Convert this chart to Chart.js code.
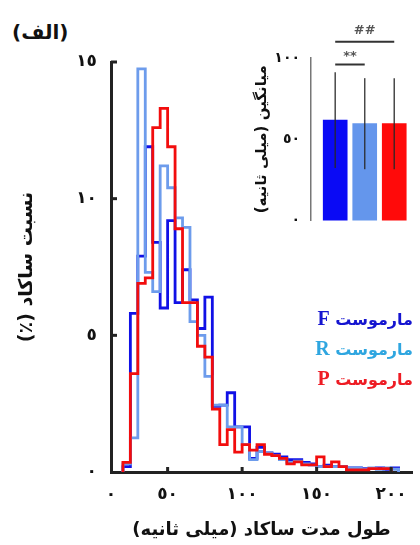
<!DOCTYPE html>
<html lang="fa">
<head>
<meta charset="UTF-8">
<title>طول مدت ساکاد</title>
<script src="https://cdn.jsdelivr.net/npm/chart.js"></script>
<style>
  html, body { margin: 0; padding: 0; background: #fff; }
  body { width: 420px; height: 545px; position: relative; overflow: hidden; font-family: 'DejaVu Sans', sans-serif; }
  #mainChart { position: absolute; left: 0; top: 0; }
  #insetChart { position: absolute; left: 250px; top: 0; }
  .panel-tag { position: absolute; left: 12px; top: 20px; font-weight: bold; font-size: 20px; color: #111; }
  .legend { position: absolute; right: 7px; top: 304px; direction: rtl; text-align: right; font-weight: bold; font-size: 16px; line-height: 29px; }
  .legend .tag { font-family: 'Liberation Serif', serif; font-size: 20px; }
</style>
</head>
<body>
<div class="panel-tag" dir="rtl">(الف)</div>
<canvas id="mainChart" width="420" height="545" dir="rtl"></canvas>
<canvas id="insetChart" width="170" height="240" dir="rtl"></canvas>
<div class="legend">
  <div style="color:#1515d0">مارموست <span class="tag">F</span></div>
  <div style="color:#2fa6e0">مارموست <span class="tag">R</span></div>
  <div style="color:#ee1c24">مارموست <span class="tag">P</span></div>
</div>
<script>
// histogram bins (ms, bin start), 5 ms wide
const binStart = [20,25,30,35,40,45,50,55,60,65,70,75,80,85,90,95,100,105,110,115,120,125,130,135,140,145,150,155,160,165,170,175,180,185,190,195,200];
const binWidth = 5;
const seriesNames = ['مارموست F', 'مارموست R', 'مارموست P'];
// percent of saccades per bin
const fValues = [0.2,5.8,7.9,11.9,8.4,6.0,9.2,6.2,7.4,6.3,5.25,6.4,2.4,2.45,2.9,1.65,1.65,0.5,0.9,0.7,0.65,0.55,0.45,0.45,0.35,0.3,0.2,0.25,0.2,0.2,0.15,0.15,0.12,0.12,0.15,0.1,0.15];
const rValues = [0.3,1.25,14.75,7.3,6.6,11.2,10.4,9.3,8.95,5.5,5.0,3.5,2.45,2.45,1.65,1.65,1.0,0.45,0.75,0.7,0.6,0.45,0.35,0.4,0.3,0.25,0.2,0.2,0.2,0.2,0.15,0.15,0.1,0.15,0.1,0.15,0.1];
const pValues = [0.35,3.6,6.9,7.1,12.6,13.3,11.9,8.9,6.2,6.2,4.6,4.2,2.3,1.0,1.55,0.73,1.0,0.8,1.0,0.65,0.6,0.5,0.3,0.37,0.26,0.26,0.55,0.2,0.37,0.2,0.08,0.08,0.08,0.12,0.12,0.12];

const xTickValues = [0, 50, 100, 150, 200];
const xTickLabels = ['٠', '٥٠', '١٠٠', '١٥٠', '٢٠٠'];
const yTickValues = [0, 5, 10, 15];
const yTickLabels = ['٠', '٥', '١٠', '١٥'];

// inset: mean saccade duration
const groupNames = ['F', 'R', 'P'];
const groupPos = [1, 2, 3];
const meanValues = [61.8, 59.6, 59.6];
const errValues = [29.5, 28, 28];
const insetTickValues = [0, 50, 100];
const insetTickLabels = ['٠', '٥٠', '١٠٠'];

// step outline points: rises at the first edge, falls at the last
function toSteps(vals) {
  const pts = [{ x: binStart[0], y: 0 }];
  vals.forEach((v, i) => pts.push({ x: binStart[i], y: v }));
  pts.push({ x: binStart[vals.length - 1] + binWidth, y: 0 });
  return pts;
}

const boldFont = (size) => ({ family: 'DejaVu Sans', size: size, weight: 'bold' });

const innerTicks = {
  id: 'innerTicks',
  afterDraw(chart) {
    const { ctx, chartArea, scales: { x, y } } = chart;
    ctx.save();
    ctx.strokeStyle = '#222';
    ctx.lineWidth = 3;
    yTickValues.forEach(v => {
      if (v === 0) return;
      const py = y.getPixelForValue(v);
      ctx.beginPath(); ctx.moveTo(chartArea.left, py); ctx.lineTo(chartArea.left + 6, py); ctx.stroke();
    });
    xTickValues.forEach(v => {
      if (v <= x.min) return;
      const px = x.getPixelForValue(v);
      ctx.beginPath(); ctx.moveTo(px, chartArea.bottom); ctx.lineTo(px, chartArea.bottom - 5); ctx.stroke();
    });
    ctx.restore();
  }
};

new Chart(document.getElementById('mainChart'), {
  type: 'line',
  data: {
    datasets: [
      { label: seriesNames[2], data: toSteps(pValues), borderColor: '#f20d0d', order: 0 },
      { label: seriesNames[1], data: toSteps(rValues), borderColor: '#6d9cec', order: 1 },
      { label: seriesNames[0], data: toSteps(fValues), borderColor: '#1010e6', order: 2 }
    ]
  },
  options: {
    responsive: false,
    animation: false,
    layout: { padding: { top: 62, right: 8, left: 0, bottom: 0 } },
    elements: {
      line: { borderWidth: 2.8, stepped: true, fill: false, tension: 0 },
      point: { radius: 0, hoverRadius: 0 }
    },
    plugins: { legend: { display: false }, tooltip: { enabled: false } },
    scales: {
      x: {
        type: 'linear', min: 12, max: 214,
        afterBuildTicks: s => { s.ticks = xTickValues.map(v => ({ value: Math.max(v, s.min) })); },
        afterFit: s => { s.height = 73; },
        grid: { display: false, drawTicks: false },
        border: { display: true, width: 3, color: '#222' },
        ticks: { padding: 12, autoSkip: false, maxRotation: 0, color: '#111', font: boldFont(17),
                 callback: (v, i) => xTickLabels[i] },
        title: { display: true, text: 'طول مدت ساکاد (میلی ثانیه)', color: '#111', font: boldFont(18),
                 padding: { top: 0, bottom: 4 } }
      },
      y: {
        min: 0, max: 15,
        afterBuildTicks: s => { s.ticks = yTickValues.map(v => ({ value: v })); },
        afterFit: s => { s.width = 111; },
        grid: { display: false, drawTicks: false },
        border: { display: true, width: 3, color: '#222' },
        ticks: { padding: 14, color: '#111', font: boldFont(17), callback: (v, i) => yTickLabels[i] },
        title: { display: true, text: 'نسبت ساکاد (٪)', color: '#111', font: boldFont(19),
                 padding: { top: 16, bottom: 0 } }
      }
    }
  },
  plugins: [innerTicks]
});

const sigMarks = [
  { from: 0, to: 1, level: 96, text: '**', lift: 8 },
  { from: 0, to: 2, level: 110, text: '##', lift: 11 }
];

const errorBars = {
  id: 'errorBars',
  afterDatasetsDraw(chart) {
    const { ctx, scales: { x, y } } = chart;
    ctx.save();
    ctx.strokeStyle = 'rgba(40,40,40,0.85)';
    ctx.lineWidth = 1.5;
    meanValues.forEach((m, i) => {
      const px = x.getPixelForValue(groupPos[i]);
      ctx.beginPath();
      ctx.moveTo(px, y.getPixelForValue(m + errValues[i]));
      ctx.lineTo(px, y.getPixelForValue(m - errValues[i]));
      ctx.stroke();
    });
    ctx.strokeStyle = '#333';
    ctx.fillStyle = '#555';
    ctx.lineWidth = 2;
    ctx.font = 'bold 13px "DejaVu Sans"';
    ctx.textAlign = 'center';
    ctx.textBaseline = 'middle';
    sigMarks.forEach(s => {
      const x1 = x.getPixelForValue(groupPos[s.from]);
      const x2 = x.getPixelForValue(groupPos[s.to]);
      const py = y.getPixelForValue(s.level);
      ctx.beginPath(); ctx.moveTo(x1, py); ctx.lineTo(x2, py); ctx.stroke();
      ctx.fillText(s.text, (x1 + x2) / 2, py - s.lift);
    });
    ctx.restore();
  }
};

new Chart(document.getElementById('insetChart'), {
  type: 'bar',
  data: {
    labels: groupNames,
    datasets: [{
      data: groupPos.map((p, i) => ({ x: p, y: meanValues[i] })),
      backgroundColor: ['#0a0af5', '#6496ec', '#ff0a0a'],
      barThickness: 24
    }]
  },
  options: {
    responsive: false,
    animation: false,
    layout: { padding: { top: 58, right: 11, left: 0, bottom: 18 } },
    plugins: { legend: { display: false }, tooltip: { enabled: false } },
    scales: {
      x: { type: 'linear', min: 0.18, max: 3.5, offset: false, display: false },
      y: {
        min: 0, max: 100,
        afterBuildTicks: s => { s.ticks = insetTickValues.map(v => ({ value: v })); },
        afterFit: s => { s.width = 61; },
        grid: { display: false, drawTicks: false },
        border: { display: true, width: 1.5, color: '#777' },
        ticks: { padding: 11, color: '#111', font: boldFont(14), callback: (v, i) => insetTickLabels[i] },
        title: { display: true, text: 'میانگین (میلی ثانیه)', color: '#111', font: boldFont(15),
                 padding: { top: 3, bottom: 0 } }
      }
    }
  },
  plugins: [errorBars]
});
</script>
</body>
</html>
